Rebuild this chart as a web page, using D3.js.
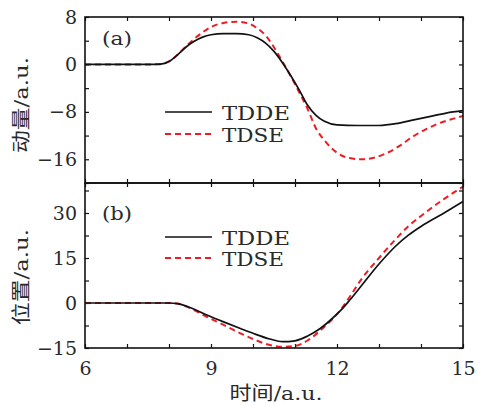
<!DOCTYPE html>
<html>
<head>
<meta charset="utf-8">
<script src="https://cdn.jsdelivr.net/npm/d3@7"></script>
<style>
  html, body { margin: 0; padding: 0; background: #fff; }
  svg text { font-family: "DejaVu Serif", "Noto Sans CJK SC", serif !important; fill: #2a2a2a; }
</style>
</head>
<body>
<svg id="chart" width="478" height="406"></svg>
<script>
// time axis (a.u.)
const timeTicks = [6, 9, 12, 15];

// (a) momentum
const tMom = [6, 7.5, 7.8, 8.0, 8.2, 8.4, 8.6, 8.8, 9.0, 9.3, 9.6, 9.9, 10.1, 10.3, 10.5, 10.7, 10.9, 11.1, 11.3, 11.5, 11.7, 12.0, 12.5, 13.0, 13.4, 13.8, 14.2, 14.6, 15];
const momTDDE = [0, 0, 0.05, 0.5, 1.6, 2.9, 3.9, 4.6, 5.0, 5.2, 5.2, 5.0, 4.5, 3.6, 2.2, 0.3, -1.9, -4.3, -6.9, -8.6, -9.6, -10.2, -10.3, -10.3, -10.0, -9.4, -8.8, -8.2, -7.8];
const tMomSE = [6, 7.5, 7.8, 8.0, 8.2, 8.4, 8.6, 8.8, 9.0, 9.3, 9.6, 9.9, 10.1, 10.3, 10.5, 10.7, 10.9, 11.1, 11.3, 11.5, 11.7, 12.0, 12.3, 12.6, 12.9, 13.2, 13.5, 13.8, 14.1, 14.4, 14.7, 15];
const momTDSE = [0, 0, 0.05, 0.5, 1.6, 3.0, 4.3, 5.4, 6.3, 7.0, 7.2, 6.9, 6.1, 4.9, 2.9, 0.5, -2.0, -4.7, -7.5, -10.8, -12.8, -14.9, -15.8, -16.0, -15.7, -14.9, -13.7, -12.2, -11.0, -10.0, -9.3, -8.7];
const momTicks = [-16, -8, 0, 8];

// (b) position
const tPos = [6, 7, 8, 8.2, 8.5, 8.9, 9.3, 9.7, 10.0, 10.4, 10.7, 11.0, 11.3, 11.6, 11.9, 12.1, 12.3, 12.6, 13.0, 13.4, 13.7, 14.0, 14.5, 15];
const posTDDE = [0, 0, 0, -0.2, -1.5, -4.0, -6.3, -8.5, -10.1, -12.0, -12.9, -12.6, -11.0, -8.5, -5.0, -2.3, 0.9, 6.1, 13.0, 19.0, 22.6, 25.5, 29.6, 33.8];
const posTDSE = [0, 0, 0, -0.2, -1.7, -4.6, -7.3, -10.1, -12.0, -14.0, -14.6, -14.3, -12.5, -9.2, -5.2, -2.0, 2.0, 8.3, 15.0, 21.3, 25.6, 29.0, 34.2, 38.8];
const posTicks = [-15, 0, 15, 30];

const red = '#ed1c24';
const svg = d3.select('#chart');
const left = 85, right = 463;

const x = d3.scaleLinear().domain([6, 15]).range([left, right]);

const fmt = d => (d < 0 ? '\u2212' + Math.abs(d) : String(d));

function panel(o) {
  const y = d3.scaleLinear().domain(o.domain).range([o.bottom, o.top]);
  const g = svg.append('g');

  // inward ticks on all four sides
  const minorX = d3.range(6, 15.01, 1);
  const minorY = d3.range(o.domain[0], o.domain[1] + 0.01, o.minorStep);

  g.append('g').attr('transform', `translate(0,${o.bottom})`)
    .call(d3.axisBottom(x).tickValues(minorX).tickSize(-4).tickSizeOuter(0).tickFormat(''));
  g.append('g').attr('transform', `translate(0,${o.top})`)
    .call(d3.axisTop(x).tickValues(minorX).tickSize(-4).tickSizeOuter(0).tickFormat(''));
  g.append('g').attr('transform', `translate(${right},0)`)
    .call(d3.axisRight(y).tickValues(minorY).tickSize(-4).tickSizeOuter(0).tickFormat(''));
  g.append('g').attr('transform', `translate(${left},0)`)
    .call(d3.axisLeft(y).tickValues(minorY).tickSize(-4).tickSizeOuter(0).tickFormat(''));

  const yl = g.append('g').attr('transform', `translate(${left},0)`)
    .call(d3.axisLeft(y).tickValues(o.ticks).tickSize(0).tickPadding(8).tickFormat(fmt));
  yl.selectAll('text').style('font-size', '19px');

  if (o.xLabels) {
    const xl = g.append('g').attr('transform', `translate(0,${o.bottom})`)
      .call(d3.axisBottom(x).tickValues(timeTicks).tickSize(0).tickPadding(14).tickFormat(d => d));
    xl.selectAll('text').style('font-size', '19px');
  }
  g.selectAll('.domain').remove();
  g.selectAll('.tick line').attr('stroke', '#111').attr('stroke-width', 1.2);

  const line = (ts) => d3.line()
    .x((d, i) => x(ts[i]))
    .y(d => y(d))
    .curve(d3.curveMonotoneX);

  g.append('path').datum(o.tdse)
    .attr('d', line(o.tse))
    .attr('fill', 'none').attr('stroke', red).attr('stroke-width', 2)
    .attr('stroke-dasharray', '6,4');
  g.append('path').datum(o.tdde)
    .attr('d', line(o.tde))
    .attr('fill', 'none').attr('stroke', '#111').attr('stroke-width', 1.7);

  g.append('rect')
    .attr('x', left).attr('y', o.top)
    .attr('width', right - left).attr('height', o.bottom - o.top)
    .attr('fill', 'none').attr('stroke', '#111').attr('stroke-width', 1.6);

  // panel tag
  g.append('text').attr('x', 102).attr('y', o.top + o.tagDy)
    .attr('textLength', 30).attr('lengthAdjust', 'spacingAndGlyphs')
    .style('font-size', '19px').text(o.tag);

  // legend
  const lg = g.append('g');
  lg.append('line').attr('x1', 165).attr('x2', 212).attr('y1', o.legY).attr('y2', o.legY)
    .attr('stroke', '#111').attr('stroke-width', 1.7);
  lg.append('line').attr('x1', 165).attr('x2', 212).attr('y1', o.legY + o.legGap).attr('y2', o.legY + o.legGap)
    .attr('stroke', red).attr('stroke-width', 2).attr('stroke-dasharray', '6,4');
  lg.append('text').attr('x', 222).attr('y', o.legY + 7.5)
    .attr('textLength', 68).attr('lengthAdjust', 'spacingAndGlyphs')
    .style('font-size', '18px').text('TDDE');
  lg.append('text').attr('x', 222).attr('y', o.legY + o.legGap + 7.5)
    .attr('textLength', 62).attr('lengthAdjust', 'spacingAndGlyphs')
    .style('font-size', '18px').text('TDSE');

  // y title
  g.append('text')
    .attr('transform', `translate(28,${o.titleY}) rotate(-90)`)
    .attr('text-anchor', 'middle')
    .attr('textLength', 96).attr('lengthAdjust', 'spacingAndGlyphs')
    .style('font-size', '19px').text(o.title);
}

panel({
  domain: [-20, 8], top: 17, bottom: 183, ticks: momTicks, minorStep: 4,
  tde: tMom, tdde: momTDDE, tse: tMomSE, tdse: momTDSE,
  tag: '(a)', tagDy: 28, legY: 112, legGap: 22, title: '动量/a.u.', titleY: 105, xLabels: false
});

panel({
  domain: [-15, 40], top: 183, bottom: 348, ticks: posTicks, minorStep: 7.5,
  tde: tPos, tdde: posTDDE, tse: tPos, tdse: posTDSE,
  tag: '(b)', tagDy: 37, legY: 237, legGap: 21, title: '位置/a.u.', titleY: 277, xLabels: true
});

svg.append('text')
  .attr('x', 276).attr('y', 400)
  .attr('text-anchor', 'middle')
  .attr('textLength', 93).attr('lengthAdjust', 'spacingAndGlyphs')
  .style('font-size', '19px').text('时间/a.u.');
</script>
</body>
</html>
